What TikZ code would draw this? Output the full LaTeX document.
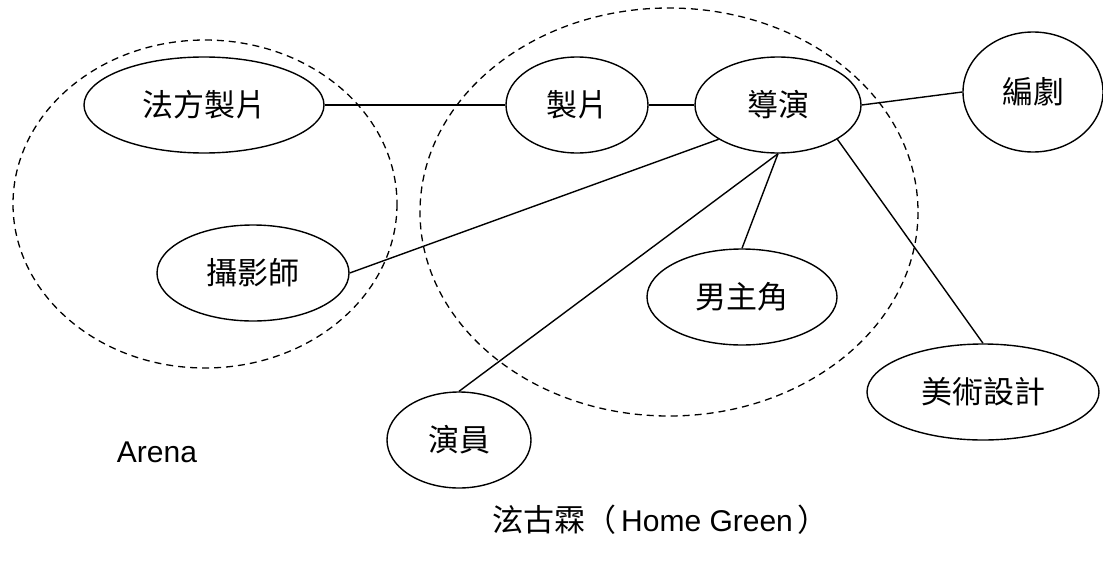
\documentclass[tikz,border=0pt]{standalone}
\usepackage{fontspec}
\setmainfont{Liberation Sans}
\newfontfamily\cjk{Noto Sans CJK TC}
\usetikzlibrary{shapes.geometric}
\tikzset{
  role/.style={ellipse, draw, line width=1.4pt, inner sep=0pt, font=\cjk\fontsize{31}{36}\selectfont},
  group/.style={draw, dashed, line width=1.3pt, dash pattern=on 7pt off 5pt},
  link/.style={draw, line width=1.4pt},
  lbl/.style={inner sep=0pt, font=\fontsize{30}{36}\selectfont}
}
\begin{document}
\begin{tikzpicture}[x=1pt,y=-1pt]
\useasboundingbox (0,0) rectangle (1103,562);
% groups
\draw[group] (205,204) ellipse [x radius=192, y radius=164];
\draw[group] (669,212) ellipse [x radius=249, y radius=204];
% roles
\node[role, minimum width=240pt, minimum height=96pt] (fa) at (204,105) {法方製片};
\node[role, minimum width=142pt, minimum height=96pt] (zhi) at (577,105) {製片};
\node[role, minimum width=166pt, minimum height=96pt] (dao) at (778,105) {導演};
\node[role, minimum width=140pt, minimum height=120pt] (bian) at (1033,92) {編劇};
\node[role, minimum width=192pt, minimum height=96pt] (she) at (253,273) {攝影師};
\node[role, minimum width=190pt, minimum height=96pt] (nan) at (742,297) {男主角};
\node[role, minimum width=232pt, minimum height=96pt] (mei) at (983,392) {美術設計};
\node[role, minimum width=144pt, minimum height=96pt] (yan) at (459,440) {演員};
% labels
\node[lbl] (arena) at (157,452) {Arena};
\node[lbl, anchor=west] (home) at (492,520) {{\cjk\fontsize{31}{36}\selectfont 泫古霖（}\,Home Green\,{\cjk\fontsize{31}{36}\selectfont ）}};
% links
\draw[link] (fa.east) -- (zhi.west);
\draw[link] (zhi.east) -- (dao.west);
\draw[link] (dao.east) -- (bian.west);
\draw[link] (dao.210) -- (she.east);
\draw[link] (dao.south) -- (nan.north);
\draw[link] (dao.south) -- (yan.north);
\draw[link] (dao.330) -- (mei.north);
\end{tikzpicture}
\end{document}
